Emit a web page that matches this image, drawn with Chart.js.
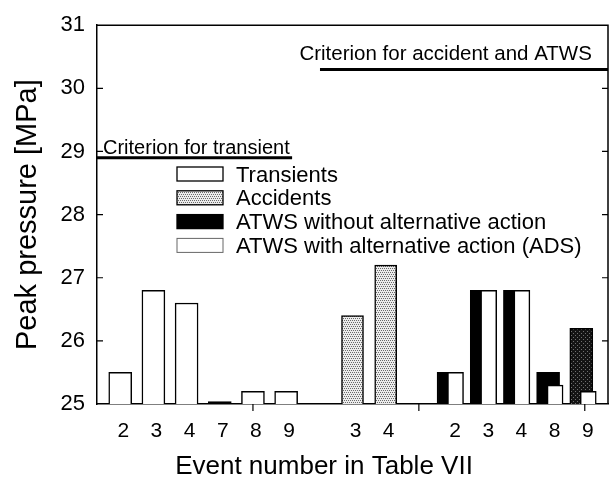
<!DOCTYPE html>
<html><head><meta charset="utf-8">
<script src="https://cdn.jsdelivr.net/npm/chart.js@4.4.1/dist/chart.umd.min.js"></script>
<style>html,body{margin:0;padding:0;background:#fff;}#wrap{width:611px;height:482px;}</style>
</head><body><div id="wrap"><canvas id="c" width="611" height="482"></canvas></div>
<script>
// ---- data ----
const transientEvents = ['2','3','4','7','8','9'];
const transientPeak   = [25.5, 26.8, 26.6, 25.04, 25.2, 25.2];
const accidentEvents  = ['3','4'];
const accidentPeak    = [26.4, 27.2];
const atwsEvents      = ['2','3','4','8','9'];
const atwsWithoutPeak = [25.5, 26.8, 26.8, 25.5, 26.2];
const atwsWithPeak    = [25.5, 26.8, 26.8, 25.3, 25.2];
const criterionTransient = 28.9;
const criterionAccident  = 30.3;
const yTickValues = [25, 26, 27, 28, 29, 30, 31];
const seriesNames = ['Transients', 'Accidents', 'ATWS without alternative action', 'ATWS with alternative action (ADS)'];
const criterionLabels = ['Criterion for transient', 'Criterion for accident and ATWS'];
const xTitle = 'Event number in Table VII';
const yTitle = 'Peak pressure [MPa]';

// ---- layout helpers (slot positions on the linear x axis) ----
const FONT = "'Liberation Sans', Arial, Helvetica, sans-serif";
const tSlots = transientEvents.map((_, i) => 1 + i);
const aSlots = accidentEvents.map((_, i) => tSlots.length + 2 + i);
const wSlots = atwsEvents.map((_, i) => tSlots.length + aSlots.length + 3 + i);
const xMin = 0.3, xMax = 15.7;
const pairShift = 0.105;
const labelMap = {};
tSlots.forEach((s, i) => labelMap[s] = transientEvents[i]);
aSlots.forEach((s, i) => labelMap[s] = accidentEvents[i]);
wSlots.forEach((s, i) => labelMap[s] = atwsEvents[i]);
const allSlots = [...tSlots, ...aSlots, ...wSlots];

function makePattern(bg, dot, pts) {
  const c = document.createElement('canvas'); c.width = 4; c.height = 4;
  const g = c.getContext('2d');
  g.fillStyle = bg; g.fillRect(0, 0, 4, 4);
  g.fillStyle = dot; pts.forEach(([x, y]) => g.fillRect(x, y, 1, 1));
  return g.createPattern(c, 'repeat');
}
const accPattern = makePattern('#ececec', '#6a6a6a', [[0,0],[2,0],[1,2],[3,2]]);
const darkPattern = makePattern('#141414', '#6f6f6f', [[1,1],[3,3]]);

const barCommon = { borderColor: '#000', borderWidth: 1.5, grouped: false, base: 25, borderSkipped: 'start' };

const framePlugin = {
  id: 'frame',
  afterDraw(chart) {
    const { ctx, chartArea: a, scales: { x, y } } = chart;
    ctx.save();
    ctx.strokeStyle = '#000'; ctx.lineWidth = 1.5;
    ctx.beginPath();
    ctx.moveTo(a.left, a.top); ctx.lineTo(a.right, a.top); ctx.lineTo(a.right, a.bottom);
    ctx.stroke();
    ctx.lineWidth = 1.2;
    ctx.beginPath();
    yTickValues.slice(1, -1).forEach(v => {
      const py = y.getPixelForValue(v);
      ctx.moveTo(a.left, py); ctx.lineTo(a.left + 6, py);
      ctx.moveTo(a.right - 6, py); ctx.lineTo(a.right, py);
    });
    [5, 10, 15].forEach(v => {
      const px = x.getPixelForValue(v);
      ctx.moveTo(px, a.bottom); ctx.lineTo(px, a.bottom + 7);
    });
    ctx.stroke();

    // criterion labels
    ctx.fillStyle = '#000';
    ctx.textBaseline = 'alphabetic'; ctx.textAlign = 'left';
    ctx.font = '20px ' + FONT;
    ctx.fillText(criterionLabels[0], a.left + 6, y.getPixelForValue(criterionTransient) - 4);
    ctx.font = '20.5px ' + FONT;
    ctx.fillText(criterionLabels[1], x.getPixelForValue(aSlots[0] - 1.6), y.getPixelForValue(criterionAccident) - 9);

    // legend
    const ds = chart.data.datasets;
    const bx = 177, bw = 46, bh = 14, rowY0 = 174, rowGap = 23.8;
    ctx.font = '22px ' + FONT;
    seriesNames.forEach((name, i) => {
      const d = ds.find(s => s.label === name);
      const cy = rowY0 + i * rowGap;
      ctx.fillStyle = d.legendFill || d.backgroundColor;
      ctx.fillRect(bx, cy - bh / 2, bw, bh);
      ctx.lineWidth = i === 3 ? 1 : 1.3;
      ctx.strokeStyle = i === 3 ? '#666' : '#000';
      ctx.strokeRect(bx, cy - bh / 2, bw, bh);
      ctx.fillStyle = '#000';
      ctx.fillText(name, 236, cy + 7.5);
    });

    // axis titles
    ctx.font = '26px ' + FONT;
    ctx.textAlign = 'center';
    ctx.fillText(xTitle, 324, 473.5);
    ctx.save();
    ctx.translate(36, (a.top + a.bottom) / 2);
    ctx.rotate(-Math.PI / 2);
    ctx.font = '29px ' + FONT;
    ctx.fillText(yTitle, 0, 0);
    ctx.restore();
    ctx.restore();
  }
};

new Chart(document.getElementById('c'), {
  type: 'bar',
  data: {
    datasets: [
      { type: 'line', label: 'crit-t', data: [{ x: xMin, y: criterionTransient }, { x: tSlots[tSlots.length - 1] + 0.18, y: criterionTransient }],
        borderColor: '#000', borderWidth: 3, pointRadius: 0, order: -2 },
      { type: 'line', label: 'crit-a', data: [{ x: aSlots[0] - 0.98, y: criterionAccident }, { x: xMax, y: criterionAccident }],
        borderColor: '#000', borderWidth: 3, pointRadius: 0, order: -1 },
      Object.assign({ label: seriesNames[3], data: wSlots.map((s, i) => ({ x: s + pairShift, y: atwsWithPeak[i] })),
        backgroundColor: '#fff', barThickness: 16, order: 0 }, barCommon),
      Object.assign({ label: seriesNames[2], data: wSlots.map((s, i) => ({ x: s - pairShift, y: atwsWithoutPeak[i] })),
        backgroundColor: c => (c.dataIndex === atwsEvents.length - 1 ? darkPattern : '#000'), legendFill: '#000', barThickness: 23, order: 1 }, barCommon),
      Object.assign({ label: seriesNames[0], data: tSlots.map((s, i) => ({ x: s, y: transientPeak[i] })),
        backgroundColor: c => (c.dataIndex === 3 ? '#000' : '#fff'), legendFill: '#fff', barThickness: 23, order: 2 }, barCommon),
      Object.assign({ label: seriesNames[1], data: aSlots.map((s, i) => ({ x: s, y: accidentPeak[i] })),
        backgroundColor: accPattern, barThickness: 22, order: 3 }, barCommon)
    ]
  },
  options: {
    responsive: false, animation: false,
    layout: { padding: { left: 0, right: 3, top: 23, bottom: 0 } },
    plugins: { legend: { display: false }, tooltip: { enabled: false } },
    scales: {
      x: {
        type: 'linear', min: xMin, max: xMax, offset: false,
        grid: { display: false, drawTicks: false, offset: false },
        border: { display: true, color: '#000', width: 1.5 },
        afterBuildTicks: s => { s.ticks = allSlots.map(v => ({ value: v })); },
        ticks: { autoSkip: false, maxRotation: 0, color: '#000', padding: 15, labelOffset: 3,
          font: { family: FONT, size: 21 }, callback: v => labelMap[v] || '' },
        afterFit: s => { s.height = 78; }
      },
      y: {
        min: 25, max: 31,
        grid: { display: false, drawTicks: false },
        border: { display: true, color: '#000', width: 1.5 },
        afterBuildTicks: s => { s.ticks = yTickValues.map(v => ({ value: v })); },
        ticks: { color: '#000', padding: 12, font: { family: FONT, size: 22 } },
        afterFit: s => { s.width = 97; }
      }
    }
  },
  plugins: [framePlugin]
});
</script></body></html>
